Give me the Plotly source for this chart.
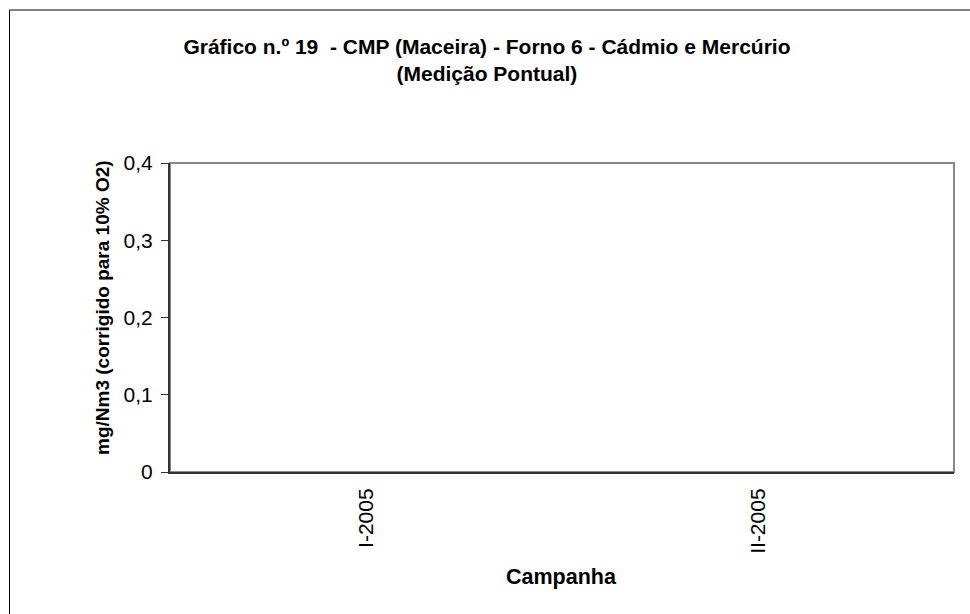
import plotly.graph_objects as go

categories = ["I-2005", "II-2005"]
cadmio = [None, None]
mercurio = [None, None]
y_ticks = [0, 0.1, 0.2, 0.3, 0.4]

FONT = "Liberation Sans, Arial, sans-serif"

fig = go.Figure()
fig.add_trace(go.Bar(x=categories, y=cadmio, name="Cádmio", marker_color="#9999FF"))
fig.add_trace(go.Bar(x=categories, y=mercurio, name="Mercúrio", marker_color="#993366"))

L, R, T, B = 170, 16, 163, 142
W, H = 970, 614
pw, ph = W - L - R, H - T - B

def px_x(x):
    return (x - L) / pw

def px_y(y):
    return (H - B - y) / ph

fig.update_layout(
    width=W, height=H,
    margin=dict(l=L, r=R, t=T, b=B, pad=0),
    paper_bgcolor="white", plot_bgcolor="white",
    showlegend=False,
    separators=",.",
    font=dict(family=FONT, color="black", size=21),
    title=dict(
        text="<b>Gráfico n.º 19  - CMP (Maceira) - Forno 6 - Cádmio e Mercúrio<br>(Medição Pontual)</b>",
        x=0.502, xref="container", xanchor="center",
        y=1 - 54 / H, yref="container", yanchor="top",
        font=dict(family=FONT, size=21, color="black"),
    ),
    xaxis=dict(
        type="category", categoryarray=categories, range=[-0.5, 1.5],
        showline=True, linecolor="#333333", linewidth=2,
        ticks="", tickangle=-90, showgrid=False, zeroline=False,
        tickfont=dict(family=FONT, size=21, color="black"),
        ticklabelstandoff=6,
    ),
    yaxis=dict(
        range=[0, 0.4], tickvals=y_ticks,
        showline=True, linecolor="#333333", linewidth=2,
        ticks="outside", ticklen=7, tickcolor="#333333", tickwidth=1,
        showgrid=False, zeroline=False,
        tickfont=dict(family=FONT, size=21, color="black"),
        ticklabelstandoff=4,
    ),
    shapes=[
        dict(type="rect", xref="paper", yref="paper", x0=0, x1=1, y0=0, y1=1,
             line=dict(color="#888888", width=2), layer="below"),
        dict(type="rect", xref="paper", yref="paper",
             x0=px_x(9.5), x1=px_x(1000), y0=px_y(640), y1=px_y(10),
             line=dict(color="black", width=1)),
    ],
    annotations=[
        dict(text="<b>mg/Nm3 (corrigido para 10% O2)</b>", xref="paper", yref="paper",
             x=px_x(102), y=px_y(308), xanchor="center", yanchor="middle",
             textangle=-90, showarrow=False, font=dict(family=FONT, size=19, color="black")),
        dict(text="<b>Campanha</b>", xref="paper", yref="paper",
             x=px_x(561), y=px_y(577), xanchor="center", yanchor="middle",
             showarrow=False, font=dict(family=FONT, size=21.5, color="black")),
    ],
)

fig.write_html("out.html", config={"displayModeBar": False},
               post_script="document.body.style.margin='0';")
